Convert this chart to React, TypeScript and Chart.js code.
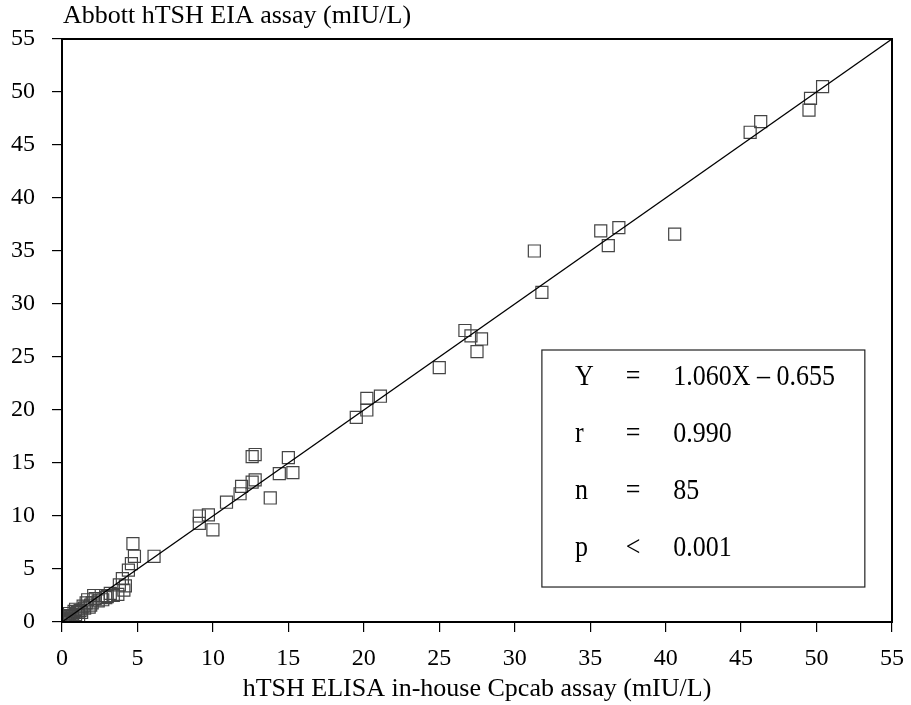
import React, { useEffect, useRef } from "react";
import { Chart, registerables } from "chart.js";

Chart.register(...registerables);

// Data
const xValues = [
  50.4, 49.6, 49.5, 46.3, 45.6, 40.6, 36.9, 35.7, 36.2, 31.3, 31.8,
  26.7, 27.1, 27.8, 27.5, 25.0, 21.1, 20.2, 20.2, 19.5,
  12.8, 12.6, 15.0, 15.3, 14.4, 12.8, 12.6, 11.9, 11.8, 13.8, 10.9,
  9.7, 9.1, 9.1, 10.0, 6.1, 4.7, 4.8, 4.6, 4.4, 4.0, 4.2, 4.1, 3.7,
  3.4, 3.0, 2.6, 2.9, 2.1, 2.2, 1.7, 1.6, 1.8, 1.5, 1.2, 1.3, 1.0,
  0.9, 0.8, 0.7, 0.6, 0.5, 0.4, 0.3, 0.2, 0.1, 0.0, 0.2, 0.3, 0.5,
  1.1, 1.4, 2.0, 2.4, 3.2, 3.8, 0.6, 0.1, 0.4, 0.9, 0.0, 0.7, 1.9,
  2.7, 0.3,
];
const yValues = [
  50.5, 49.4, 48.3, 47.2, 46.2, 36.6, 37.2, 36.9, 35.5, 35.0, 31.1,
  27.5, 27.0, 26.7, 25.5, 24.0, 21.3, 21.1, 20.0, 19.3,
  15.8, 15.6, 15.5, 14.1, 14.0, 13.4, 13.2, 12.8, 12.1, 11.7, 11.3,
  10.1, 10.0, 9.3, 8.7, 6.2, 7.4, 6.2, 5.5, 4.9, 4.1, 3.4, 3.0, 2.6,
  2.5, 2.4, 2.5, 2.3, 2.5, 2.2, 2.1, 1.8, 1.4, 1.3, 1.1, 0.9, 0.9,
  0.7, 1.0, 0.6, 0.5, 0.4, 0.3, 0.2, 0.1, 0.2, 0.3, 0.0, 0.5, 0.8,
  0.6, 1.5, 1.8, 2.0, 2.7, 3.5, 0.2, 0.0, 0.6, 1.2, 0.1, 0.3, 1.6,
  2.1, 0.0,
];
const lineX = [0, 55];
const lineY = [0, 55];
const axisMin = 0;
const axisMax = 55;
const axisStep = 5;
const xTitle = "hTSH ELISA in-house Cpcab assay (mIU/L)";
const yTitle = "Abbott hTSH EIA assay (mIU/L)";
const statSymbols = ["Y", "r", "n", "p"];
const statOps = ["=", "=", "=", "<"];
const statValues = ["1.060X \u2013 0.655", "0.990", "85", "0.001"];

const FONT = "'Liberation Serif', 'Times New Roman', serif";

const framePlugin = {
  id: "frameAndStats",
  afterDraw(chart: any) {
    const { ctx, chartArea, scales } = chart;
    const xs = scales.x;
    const ys = scales.y;
    ctx.save();
    // frame
    ctx.strokeStyle = "#000";
    ctx.lineWidth = 2;
    ctx.strokeRect(
      chartArea.left,
      chartArea.top,
      chartArea.right - chartArea.left,
      chartArea.bottom - chartArea.top
    );
    // y title
    ctx.fillStyle = "#000";
    ctx.font = `26px ${FONT}`;
    ctx.textAlign = "left";
    ctx.textBaseline = "alphabetic";
    ctx.fillText(yTitle, chartArea.left + 1, 23);
    // stats box (data coordinates)
    const bx0 = xs.getPixelForValue(31.8);
    const bx1 = xs.getPixelForValue(53.2);
    const by0 = ys.getPixelForValue(25.66);
    const by1 = ys.getPixelForValue(3.3);
    ctx.strokeStyle = "#222";
    ctx.lineWidth = 1.2;
    ctx.strokeRect(bx0, by0, bx1 - bx0, by1 - by0);
    const rowY = [22.36, 16.98, 11.6, 6.23];
    ctx.font = `26px ${FONT}`;
    const drawStretched = (text: string, x: number, y: number, align: string) => {
      ctx.save();
      ctx.translate(x, y);
      ctx.scale(1, 1.15);
      ctx.textAlign = align;
      ctx.fillText(text, 0, 0);
      ctx.restore();
    };
    for (let i = 0; i < statSymbols.length; i++) {
      const py = ys.getPixelForValue(rowY[i]);
      drawStretched(statSymbols[i], xs.getPixelForValue(34.0), py, "left");
      drawStretched(statOps[i], xs.getPixelForValue(37.84), py, "center");
      drawStretched(statValues[i], xs.getPixelForValue(40.5), py, "left");
    }
    ctx.restore();
  },
};

export default function App() {
  const canvasRef = useRef<HTMLCanvasElement | null>(null);

  useEffect(() => {
    document.body.style.margin = "0";
    const canvas = canvasRef.current;
    if (!canvas) return;
    const points = xValues.map((x, i) => ({ x, y: yValues[i] }));
    const linePts = lineX.map((x, i) => ({ x, y: lineY[i] }));
    const tickFont = { family: FONT, size: 24 };
    const titleFont = { family: FONT, size: 26 };
    const chart = new Chart(canvas, {
      type: "scatter",
      data: {
        datasets: [
          {
            data: linePts,
            showLine: true,
            borderColor: "#000",
            borderWidth: 1.3,
            pointRadius: 0,
            fill: false,
          },
          {
            data: points,
            pointStyle: "rect",
            pointRadius: 8.5,
            pointBorderColor: "#444",
            pointBackgroundColor: "rgba(0,0,0,0)",
            pointBorderWidth: 1.2,
            showLine: false,
          },
        ],
      },
      options: {
        animation: false,
        responsive: false,
        maintainAspectRatio: false,
        layout: { padding: { top: 39, right: 19, left: 0, bottom: 0 } },
        plugins: {
          legend: { display: false },
          tooltip: { enabled: false },
        },
        scales: {
          x: {
            type: "linear",
            min: axisMin,
            max: axisMax,
            ticks: {
              stepSize: axisStep,
              color: "#000",
              font: tickFont,
              padding: 12,
              maxRotation: 0,
            },
            grid: {
              display: true,
              drawOnChartArea: false,
              drawTicks: true,
              tickLength: 10,
              color: "#000",
              lineWidth: 1.2,
            },
            border: { display: false },
            title: {
              display: true,
              text: xTitle,
              color: "#000",
              font: titleFont,
              padding: { top: 0, bottom: 0 },
            },
            afterFit(scale: any) {
              scale.height = 83;
              scale.paddingLeft = 0;
              scale.paddingRight = 0;
            },
          },
          y: {
            type: "linear",
            min: axisMin,
            max: axisMax,
            ticks: {
              stepSize: axisStep,
              color: "#000",
              font: tickFont,
              padding: 17,
            },
            grid: {
              display: true,
              drawOnChartArea: false,
              drawTicks: true,
              tickLength: 10,
              color: "#000",
              lineWidth: 1.2,
            },
            border: { display: false },
            afterFit(scale: any) {
              scale.width = 62;
              scale.paddingTop = 0;
              scale.paddingBottom = 0;
            },
          },
        },
      },
      plugins: [framePlugin],
    } as any);
    return () => chart.destroy();
  }, []);

  return (
    <div style={{ width: 911, height: 705 }}>
      <canvas ref={canvasRef} width={911} height={705} style={{ display: "block" }} />
    </div>
  );
}
